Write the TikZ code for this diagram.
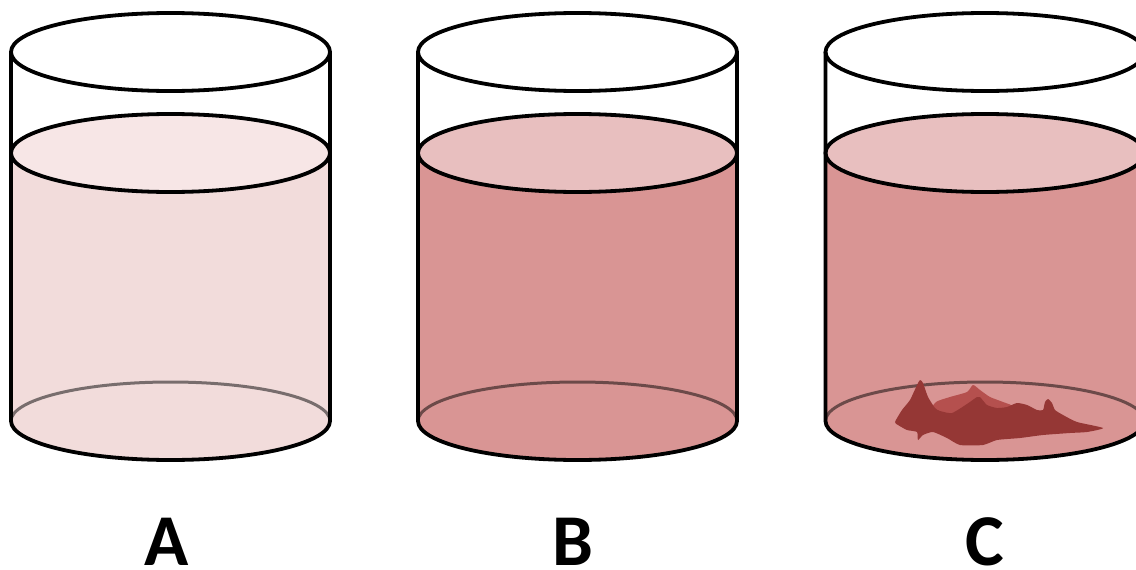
\documentclass[tikz,border=0pt]{standalone}
\usepackage{fontspec}
\setmainfont{Carlito}
\definecolor{bodyA}{HTML}{F2DCDB}
\definecolor{topA}{HTML}{F7E6E6}
\definecolor{bodyB}{HTML}{D99594}
\definecolor{topB}{HTML}{E8BFBF}
\definecolor{precDark}{HTML}{953735}
\definecolor{precLight}{HTML}{B5504E}
\newcommand\drawbeaker[3]{%
  % #1 = centre x, #2 = body colour, #3 = surface colour
  \fill[#2] (#1-159.5,153) -- (#1-159.5,421)
     arc[start angle=180,end angle=0,x radius=159.5,y radius=39]
     -- (#1+159.5,153) -- cycle;
  \draw[backline] (#1+159.5,421) arc[start angle=0,end angle=-180,x radius=159.5,y radius=39];
}
\newcommand\outlinebeaker[3]{%
  \fill[#3] (#1,153) ellipse[x radius=159.5,y radius=39];
  \draw[rim] (#1-159.5,52) -- (#1-159.5,421)
     arc[start angle=180,end angle=0,x radius=159.5,y radius=39]
     -- (#1+159.5,52);
  \draw[rim] (#1,153) ellipse[x radius=159.5,y radius=39];
  \draw[rim] (#1,52) ellipse[x radius=159.5,y radius=39];
}
\tikzset{
  rim/.style={line width=3.8pt,black,line join=round},
  backline/.style={line width=3pt,black,opacity=0.5},
  label/.style={font=\bfseries\fontsize{73}{80}\selectfont,anchor=base,
    inner sep=0pt,text depth=0pt}
}
\begin{document}
\begin{tikzpicture}[x=1pt,y=-1pt]
\useasboundingbox (0,0) rectangle (1136,570);
\clip (0,0) rectangle (1136,570);
\fill[white] (0,0) rectangle (1136,570);
% beaker A
\drawbeaker{170.5}{bodyA}{topA}
\outlinebeaker{170.5}{bodyA}{topA}
% beaker B
\drawbeaker{577.5}{bodyB}{topB}
\outlinebeaker{577.5}{bodyB}{topB}
% beaker C
\drawbeaker{985}{bodyB}{topB}
% precipitate
\fill[precLight] plot[smooth cycle,tension=0.4] coordinates {
  (931,412) (936,402) (950,397) (967,392) (973,385) (980,390) (990,397)
  (1003,402) (1013,407) (990,416) (950,418)};
\fill[precDark] plot[smooth cycle,tension=0.35] coordinates {
  (895,422) (902,410) (910,400) (917,385) (920,380) (923,383) (928,397)
  (935,408) (940,411) (952,413) (967,404) (977,397) (980,397) (987,405)
  (997,408) (1007,407) (1017,403) (1027,405) (1037,410) (1043,410)
  (1045,402) (1048,399) (1052,403) (1055,410) (1063,415) (1077,422)
  (1103,428) (1087,432) (1070,433) (1043,435) (1020,438) (997,440)
  (983,445) (960,445) (947,438) (933,432) (923,435) (918,440) (917,432)
  (907,430) (898,425)};
\outlinebeaker{985}{bodyB}{topB}
% labels
\node[label] (la) at (167,565) {A};
\node[label] (lb) at (573,565) {B};
\node[label] (lc) at (985,565) {C};
\end{tikzpicture}
\end{document}
